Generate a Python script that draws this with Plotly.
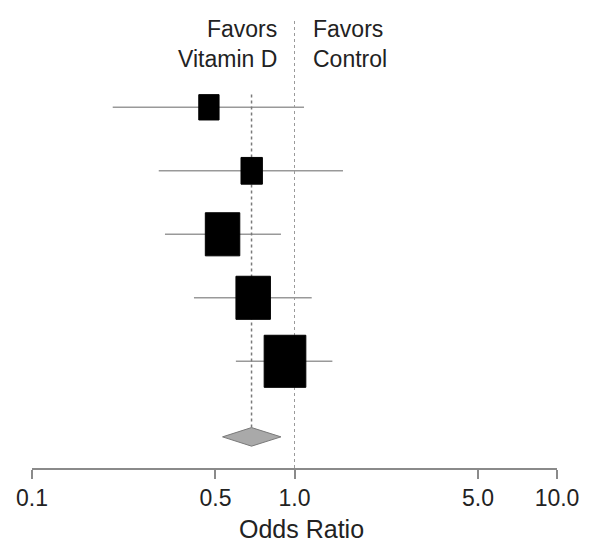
import numpy as np
import plotly.graph_objects as go

# ---- data ----
studies = ["Study 1", "Study 2", "Study 3", "Study 4", "Study 5"]
odds_ratio = [0.472, 0.687, 0.532, 0.696, 0.920]
ci_low = [0.203, 0.304, 0.321, 0.414, 0.598]
ci_high = [1.087, 1.53, 0.888, 1.163, 1.394]
weights = [9, 10, 26, 26, 38]
pooled_or = 0.686
pooled_low = 0.532
pooled_high = 0.888
tick_vals = [0.1, 0.5, 1.0, 5.0, 10.0]
tick_text = ["0.1", "0.5", "1.0", "5.0", "10.0"]

# ---- layout constants (page body has an 8px margin) ----
OFF = 8
W, H = 592 - OFF, 543 - OFF
PLOT_L, PLOT_R, PLOT_T, PLOT_B = 32, 557, 18, 468   # in window pixels
ML, MR = PLOT_L - OFF, W - (PLOT_R - OFF)
MT, MB = PLOT_T - OFF, H - (PLOT_B - OFF)
PLOT_W = PLOT_R - PLOT_L
PLOT_H = PLOT_B - PLOT_T
PX_PER_DECADE = PLOT_W / 2.0
ROW0_PX = 43.8          # window pixel position of y = 0
PX_PER_ROW = 63.5
Y_BOTTOM = (PLOT_B - ROW0_PX) / PX_PER_ROW
Y_TOP = (PLOT_T - ROW0_PX) / PX_PER_ROW
POOLED_Y = 6.19

rows = list(range(1, len(studies) + 1))
FONT = "Liberation Sans, Arial, Helvetica, sans-serif"

fig = go.Figure()

# CI lines
cx, cy = [], []
for lo, hi, r in zip(ci_low, ci_high, rows):
    cx += [lo, hi, None]
    cy += [r, r, None]
fig.add_trace(go.Scatter(x=cx, y=cy, mode="lines",
                         line=dict(color="#999999", width=1.6),
                         hoverinfo="skip", showlegend=False))

# Pooled vertical dotted line
half_d = 9.3 / PX_PER_ROW
fig.add_trace(go.Scatter(x=[pooled_or, pooled_or], y=[0.8, POOLED_Y - half_d],
                         mode="lines", line=dict(color="#7a7a7a", width=1.5, dash="dot"),
                         hoverinfo="skip", showlegend=False))

# Weight boxes
bx, by = [], []
for o, w, r in zip(odds_ratio, weights, rows):
    h_px = 8.45 * np.sqrt(w)
    w_px = 0.8 * h_px
    f = 10 ** ((w_px / 2) / PX_PER_DECADE)
    hh = (h_px / 2) / PX_PER_ROW
    bx += [o / f, o * f, o * f, o / f, o / f, None]
    by += [r - hh, r - hh, r + hh, r + hh, r - hh, None]
fig.add_trace(go.Scatter(x=bx, y=by, mode="lines", fill="toself",
                         fillcolor="black", line=dict(color="black", width=1),
                         hoverinfo="skip", showlegend=False))

# Pooled diamond
fig.add_trace(go.Scatter(
    x=[pooled_low, pooled_or, pooled_high, pooled_or, pooled_low],
    y=[POOLED_Y, POOLED_Y - half_d, POOLED_Y, POOLED_Y + half_d, POOLED_Y],
    mode="lines", fill="toself", fillcolor="#a9a9a9",
    line=dict(color="#7a7a7a", width=1), hoverinfo="skip", showlegend=False))

# Null line at OR = 1 (drawn beneath the boxes)
fig.add_shape(type="line", xref="paper", yref="paper", x0=0.5, x1=0.5, y0=0, y1=1,
              layer="below", line=dict(color="#9a9a9a", width=1, dash="dot"))

ann_font = dict(family=FONT, size=23, color="#222222")
ann_y = 1 - (44 - PLOT_T) / PLOT_H
fig.add_annotation(x=0.5, y=ann_y, xref="paper", yref="paper",
                   text="Favors<br>Vitamin D", showarrow=False, xanchor="right",
                   yanchor="middle", align="right", xshift=-16, font=ann_font)
fig.add_annotation(x=0.5, y=ann_y, xref="paper", yref="paper",
                   text="Favors<br>Control", showarrow=False, xanchor="left",
                   yanchor="middle", align="left", xshift=16, font=ann_font)
fig.add_annotation(x=(301 - PLOT_L) / PLOT_W, y=-(529 - PLOT_B) / PLOT_H,
                   xref="paper", yref="paper", text="Odds Ratio", showarrow=False,
                   xanchor="center", yanchor="middle",
                   font=dict(family=FONT, size=25, color="#222222"))

fig.update_xaxes(type="log", range=[-1, 1], tickvals=tick_vals, ticktext=tick_text,
                 showgrid=False, zeroline=False, showline=True, linecolor="#8a8a8a",
                 linewidth=1.5, ticks="outside", ticklen=9, tickwidth=1.5,
                 tickcolor="#8a8a8a", automargin=False,
                 tickfont=dict(family=FONT, size=23, color="#222222"))
fig.update_yaxes(range=[Y_BOTTOM, Y_TOP], visible=False, showgrid=False,
                 zeroline=False, automargin=False)

fig.update_layout(width=W, height=H,
                  margin=dict(l=ML, r=MR, t=MT, b=MB, autoexpand=False),
                  plot_bgcolor="white", paper_bgcolor="white", showlegend=False)

fig.write_html("out.html")
